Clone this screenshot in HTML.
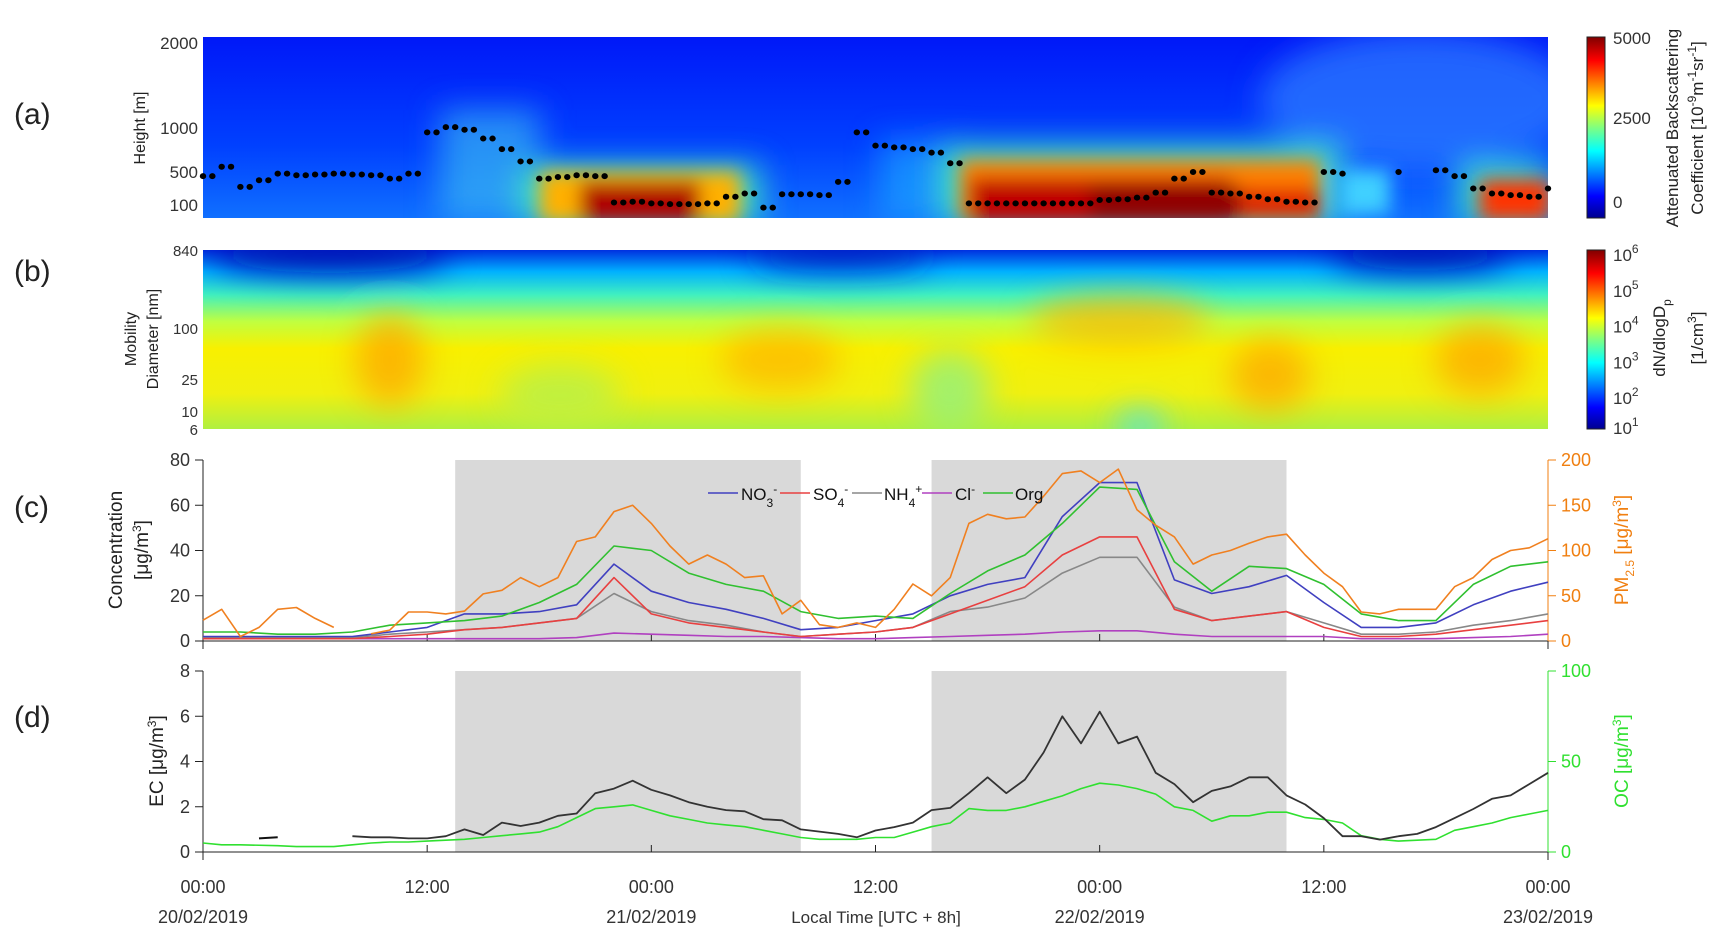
<!DOCTYPE html>
<html><head><meta charset="utf-8"><style>
html,body{margin:0;padding:0;background:#fff}
svg{display:block;font-family:"Liberation Sans",sans-serif}
</style></head><body>
<svg id="fig" width="1731" height="940" viewBox="0 0 1731 940" xmlns="http://www.w3.org/2000/svg">
<defs>
<linearGradient id="jet" x1="0" y1="1" x2="0" y2="0">
<stop offset="0" stop-color="#00008f"/><stop offset="0.12" stop-color="#0000ff"/><stop offset="0.37" stop-color="#00ffff"/><stop offset="0.5" stop-color="#80ff80"/><stop offset="0.62" stop-color="#ffff00"/><stop offset="0.87" stop-color="#ff0000"/><stop offset="1" stop-color="#800000"/>
</linearGradient>
<linearGradient id="bgB" x1="0" y1="0" x2="0" y2="1">
<stop offset="0" stop-color="#0030e0"/><stop offset="0.12" stop-color="#00b0ff"/><stop offset="0.25" stop-color="#40f0c0"/><stop offset="0.4" stop-color="#c0ff40"/><stop offset="0.55" stop-color="#f8f000"/><stop offset="0.8" stop-color="#f0f010"/><stop offset="1" stop-color="#b0f040"/>
</linearGradient>
<linearGradient id="bgA" x1="0" y1="0" x2="0" y2="1">
<stop offset="0" stop-color="#0018f8"/><stop offset="0.6" stop-color="#0040ff"/><stop offset="1" stop-color="#1070ff"/>
</linearGradient>
<filter id="blur" x="-50%" y="-50%" width="200%" height="200%"><feGaussianBlur stdDeviation="9"/></filter>
<filter id="blurL" x="-50%" y="-50%" width="200%" height="200%"><feGaussianBlur stdDeviation="16"/></filter>
<clipPath id="clipA"><rect x="203" y="37" width="1345" height="181"/></clipPath>
<clipPath id="clipB"><rect x="203" y="250" width="1345" height="179"/></clipPath>
</defs>

<g font-size="30" fill="#222">
<text x="14" y="124">(a)</text>
<text x="14" y="281">(b)</text>
<text x="14" y="517">(c)</text>
<text x="14" y="727">(d)</text>
</g>

<g clip-path="url(#clipA)">
<rect x="203" y="37" width="1345" height="181" fill="url(#bgA)"/>
<g filter="url(#blurL)">
<ellipse cx="1420" cy="100" rx="160" ry="70" fill="#3080ff" opacity="0.7"/>
<rect x="440" y="110" width="100" height="110" fill="#40c8f0" opacity="0.6"/>
<rect x="880" y="140" width="80" height="80" fill="#20b0ff" opacity="0.6"/>
<rect x="520" y="165" width="240" height="60" fill="#40e0c0"/>
<rect x="940" y="145" width="400" height="80" fill="#40e0c0"/>
<rect x="1460" y="165" width="90" height="60" fill="#40e0c0"/>
</g>
<g filter="url(#blur)">
<rect x="540" y="172" width="200" height="50" fill="#ffb000"/>
<rect x="580" y="182" width="120" height="40" fill="#b00000"/>
<rect x="960" y="160" width="360" height="60" fill="#ff8000"/>
<rect x="970" y="178" width="260" height="45" fill="#c00000"/>
<rect x="1090" y="185" width="150" height="35" fill="#900000"/>
<rect x="1240" y="188" width="80" height="30" fill="#e02000"/>
<rect x="1480" y="180" width="70" height="40" fill="#ff3000"/>
<rect x="1340" y="170" width="50" height="45" fill="#40d0ff"/>
</g>
</g>
<g id="dots"></g>

<g clip-path="url(#clipB)">
<rect x="203" y="250" width="1345" height="179" fill="url(#bgB)"/>
<g filter="url(#blurL)">
<ellipse cx="330" cy="255" rx="120" ry="18" fill="#0010b0"/>
<ellipse cx="840" cy="255" rx="90" ry="14" fill="#0020c0"/>
<ellipse cx="1420" cy="255" rx="90" ry="16" fill="#0010b0"/>
<ellipse cx="390" cy="360" rx="35" ry="45" fill="#ffa000" opacity="0.7"/>
<ellipse cx="780" cy="360" rx="60" ry="30" fill="#ffb000" opacity="0.7"/>
<ellipse cx="1120" cy="320" rx="90" ry="25" fill="#ffb000" opacity="0.7"/>
<ellipse cx="1270" cy="375" rx="40" ry="35" fill="#ffa000" opacity="0.7"/>
<ellipse cx="1480" cy="360" rx="45" ry="35" fill="#ffa000" opacity="0.7"/>
<ellipse cx="950" cy="390" rx="40" ry="40" fill="#90f080" opacity="0.8"/>
<ellipse cx="560" cy="395" rx="60" ry="30" fill="#c0f040"/>
<ellipse cx="1140" cy="425" rx="25" ry="12" fill="#40e0ff"/>
</g>
</g>

<rect x="1587" y="37" width="18" height="181" fill="url(#jet)" stroke="#222"/>
<rect x="1587" y="250" width="18" height="179" fill="url(#jet)" stroke="#222"/>
<g font-size="17" fill="#333">
<text x="1613" y="44">5000</text><text x="1613" y="124">2500</text><text x="1613" y="208">0</text>
</g>
<g font-size="17" fill="#333" id="cbB"></g>
<text transform="translate(1678,128) rotate(-90)" text-anchor="middle" font-size="17" fill="#222">Attenuated Backscattering</text>
<text transform="translate(1703,128) rotate(-90)" text-anchor="middle" font-size="17" fill="#222">Coefficient [10<tspan dy="-7" font-size="12">-9</tspan><tspan dy="7">m</tspan><tspan dy="-7" font-size="12">-1</tspan><tspan dy="7">sr</tspan><tspan dy="-7" font-size="12">-1</tspan><tspan dy="7">]</tspan></text>
<text transform="translate(1665,338) rotate(-90)" text-anchor="middle" font-size="17" fill="#222">dN/dlogD<tspan dy="6" font-size="12">p</tspan></text>
<text transform="translate(1703,338) rotate(-90)" text-anchor="middle" font-size="17" fill="#222">[1/cm<tspan dy="-7" font-size="12">3</tspan><tspan dy="7">]</tspan></text>

<g font-size="17" fill="#333" text-anchor="end">
<text x="198" y="49">2000</text><text x="198" y="134">1000</text><text x="198" y="178">500</text><text x="198" y="211">100</text>
</g>
<text transform="translate(145,128) rotate(-90)" text-anchor="middle" font-size="16" fill="#222">Height [m]</text>
<g font-size="15" fill="#333" text-anchor="end">
<text x="198" y="256">840</text><text x="198" y="334">100</text><text x="198" y="385">25</text><text x="198" y="417">10</text><text x="198" y="435">6</text>
</g>
<text transform="translate(136,339) rotate(-90)" text-anchor="middle" font-size="16" fill="#222">Mobility</text>
<text transform="translate(158,339) rotate(-90)" text-anchor="middle" font-size="16" fill="#222">Diameter [nm]</text>

<g id="panelC"></g>
<g id="panelD"></g>

<g font-size="18" fill="#333" text-anchor="middle" id="xlabels"></g>
<text x="876" y="923" text-anchor="middle" font-size="17" fill="#333">Local Time [UTC + 8h]</text>
</svg>
<script>
const mlHours=[0,1,2,3,4,5,6,7,8,9,10,11,12,13,14,15,16,17,18,19,20,21,22,23,24,25,26,27,28,29,30,31,32,33,34,35,36,37,38,39,40,41,42,43,44,45,46,47,48,49,50,51,52,53,54,55,56,57,58,59,60,61,64,66,67,68,69,70,71,72];
const mlHeight=[450,560,320,400,480,460,470,480,470,460,420,480,950,1010,980,880,760,620,420,440,460,450,130,140,120,110,110,120,200,240,80,230,230,220,380,950,800,780,760,720,600,120,120,120,120,120,120,120,160,170,190,250,420,500,250,240,200,170,140,130,500,480,500,520,450,300,240,220,200,300];

const hrs2=[0,2,4,6,8,10,12,14,16,18,20,22,24,26,28,30,32,34,36,38,40,42,44,46,48,50,52,54,56,58,60,62,64,66,68,70,72];
const no3=[2,2,2,2,2,4,6,12,12,13,16,34,22,17,14,10,5,6,9,12,20,25,28,55,70,70,27,21,24,29,17,6,6,8,16,22,26];
const so4=[1,1,1,1,1,2,3,5,6,8,10,28,12,8,6,4,2,3,4,6,12,18,24,38,46,46,14,9,11,13,6,2,2,3,5,7,9];
const nh4=[1.5,1.5,1.5,1.5,1.5,3,4,5,6,8,10,21,13,9,7,4,2,3,4,6,13,15,19,30,37,37,15,9,11,13,8,3,3,4,7,9,12];
const cl=[1,1,1,1,1,1,1,1,1,1,1.5,3.5,3,2.5,2,2,1.5,1,1,1.5,2,2.5,3,4,4.5,4.5,3,2,2,2,2,1,1,1,1.5,2,3];
const org=[4,4,3,3,4,7,8,9,11,17,25,42,40,30,25,22,13,10,11,10,21,31,38,52,68,67,35,22,33,32,25,12,9,9,25,33,35];
const pmHours1=[0,1,2,3,4,5,6,7];
const pm1=[23,35,5,15,35,37,25,15];
const pmHours2=[9,10,11,12,13,14,15,16,17,18,19,20,21,22,23,24,25,26,27,28,29,30,31,32,33,34,35,36,37,38,39,40,41,42,43,44,45,46,47,48,49,50,51,52,53,54,55,56,57,58,59,60,61,62,63,64,65,66,67,68,69,70,71,72];
const pm2=[8,12,32,32,30,33,52,56,70,60,70,110,115,143,150,130,105,85,95,85,70,72,30,45,18,15,20,15,35,63,50,70,130,140,135,137,160,185,188,175,190,145,128,115,85,95,100,108,115,118,95,75,60,32,30,35,35,35,60,70,90,100,103,113];

const ecHours1=[3,4];
const ec1=[0.6,0.65];
const ecHours2=[8,9,10,11,12,13,14,15,16,17,18,19,20,21,22,23,24,25,26,27,28,29,30,31,32,33,34,35,36,37,38,39,40,41,42,43,44,45,46,47,48,49,50,51,52,53,54,55,56,57,58,59,60,61,62,63,64,65,66,67,68,69,70,71,72];
const ec2=[0.7,0.65,0.65,0.6,0.6,0.7,1.0,0.75,1.3,1.15,1.3,1.6,1.7,2.6,2.8,3.15,2.75,2.5,2.2,2.0,1.85,1.8,1.45,1.4,1.0,0.9,0.8,0.65,0.95,1.1,1.3,1.85,1.95,2.6,3.3,2.6,3.2,4.4,6.0,4.8,6.2,4.8,5.1,3.5,3.0,2.2,2.7,2.9,3.3,3.3,2.5,2.1,1.5,0.7,0.7,0.55,0.7,0.8,1.1,1.5,1.9,2.35,2.5,3.0,3.5];
const ocHours=[0,1,2,4,5,6,7,8,9,10,11,12,13,14,15,16,17,18,19,20,21,22,23,24,25,26,27,28,29,30,31,32,33,34,35,36,37,38,39,40,41,42,43,44,45,46,47,48,49,50,51,52,53,54,55,56,57,58,59,60,61,62,63,64,65,66,67,68,69,70,71,72];
const oc=[5,4,4,3.5,3,3,3,4,5,5.5,5.5,6,6.5,7,8,9,10,11,14,19,24,25,26,23,20,18,16,15,14,12,10,8,7,7,7,8,8,11,14,16,24,23,23,25,28,31,35,38,37,35,32,25,23,17,20,20,22,22,19,18,16,9,7,6,6.5,7,12,14,16,19,21,23];

const shadeStart=[13.5,39];
const shadeEnd=[32,58];
const xTickHours=[0,12,24,36,48,60,72];
const xTickLabels=["00:00","12:00","00:00","12:00","00:00","12:00","00:00"];
const dateLabels=["20/02/2019","","21/02/2019","","22/02/2019","","23/02/2019"];
const concTicks=[0,20,40,60,80];
const pmTicks=[0,50,100,150,200];
const ecTicks=[0,2,4,6,8];
const ocTicks=[0,50,100];
const cbBexp=[1,2,3,4,5,6];

const NS='http://www.w3.org/2000/svg';
const X=h=>203+h*1345/72;
const hPts=[[0,218],[100,205],[500,172],[1000,128],[2000,37]];
function yH(v){for(let i=1;i<hPts.length;i++){if(v<=hPts[i][0]){const a=hPts[i-1],b=hPts[i];return a[1]+(v-a[0])/(b[0]-a[0])*(b[1]-a[1]);}}return 37;}
const yC=v=>641-v*181/80, yPM=v=>641-v*181/200;
const yE=v=>852-v*181/8, yO=v=>852-v*181/100;
function el(tag,attrs,parent){const e=document.createElementNS(NS,tag);for(const k in attrs)e.setAttribute(k,attrs[k]);parent.appendChild(e);return e;}
function poly(hs,vs,yf,color,parent,name,w){
  const d=hs.map((h,i)=>(i?'L':'M')+X(h).toFixed(1)+','+yf(vs[i]).toFixed(1)).join('');
  const p=el('path',{d:d,fill:'none',stroke:color,'stroke-width':w||1.6,'stroke-linejoin':'round'},parent);
  
  
}

const dg=document.getElementById('dots');
mlHours.forEach((h,i)=>{
  const c=el('ellipse',{cx:X(h),cy:yH(mlHeight[i]),rx:3.2,ry:3,fill:'#000'},dg);
  
  
  if(i<mlHours.length-1&&mlHours[i+1]-h===1){
    const c2=el('ellipse',{cx:X(h+0.5),cy:yH(mlHeight[i]),rx:3.2,ry:3,fill:'#000'},dg);
    
    
  }
});
const cb=document.getElementById('cbB');
cbBexp.forEach((e,i)=>{const t=el('text',{x:1613,y:434-(i)*179/5+(i===0?0:6)},cb);t.innerHTML='10<tspan dy="-8" font-size="12">'+e+'</tspan>';});

function panel(g,top,bot,ticksL,yl,ticksR,yr,rc){
  shadeStart.forEach((s,i)=>{const r=el('rect',{x:X(s),y:top,width:X(shadeEnd[i])-X(s),height:bot-top,fill:'#d9d9d9'},g);
    
    });
  el('line',{x1:203,y1:top,x2:203,y2:bot,stroke:'#222'},g);
  el('line',{x1:203,y1:bot,x2:1548,y2:bot,stroke:'#222'},g);
  el('line',{x1:1548,y1:top,x2:1548,y2:bot,stroke:rc},g);
  ticksL.forEach(t=>{el('line',{x1:203,y1:yl(t),x2:195,y2:yl(t),stroke:'#222'},g);
    const tx=el('text',{x:190,y:yl(t)+6,'text-anchor':'end','font-size':18,fill:'#333'},g);tx.textContent=t;});
  ticksR.forEach(t=>{el('line',{x1:1548,y1:yr(t),x2:1556,y2:yr(t),stroke:rc},g);
    const tx=el('text',{x:1561,y:yr(t)+6,'font-size':18,fill:rc},g);tx.textContent=t;});
  xTickHours.forEach(h=>el('line',{x1:X(h),y1:bot,x2:X(h),y2:bot+(h===0||h===72?8:-7),stroke:'#222'},g));
}
const gc=document.getElementById('panelC');
panel(gc,460,641,concTicks,yC,pmTicks,yPM,'#f07f10');
poly(hrs2,cl,yC,'#b040c0',gc,'cl-line');
poly(hrs2,nh4,yC,'#888',gc,'nh4-line');
poly(hrs2,so4,yC,'#e84040',gc,'so4-line');
poly(hrs2,no3,yC,'#4040c0',gc,'no3-line');
poly(hrs2,org,yC,'#30c030',gc,'org-line');
poly(pmHours1,pm1,yPM,'#f08020',gc,'pm25-line');
poly(pmHours2,pm2,yPM,'#f08020',gc,'pm25-line');
const lg=el('g',{'font-size':17,fill:'#111'},gc);


[[708,741,'#4040c0','NO<tspan dy="7" font-size="12">3</tspan><tspan dy="-14" font-size="12">-</tspan>'],
 [780,813,'#e84040','SO<tspan dy="7" font-size="12">4</tspan><tspan dy="-14" font-size="12">-</tspan>'],
 [852,884,'#888','NH<tspan dy="7" font-size="12">4</tspan><tspan dy="-14" font-size="12">+</tspan>'],
 [922,955,'#b040c0','Cl<tspan dy="-7" font-size="12">-</tspan>'],
 [983,1015,'#30c030','Org']].forEach(e=>{
  el('line',{x1:e[0],y1:493,x2:e[0]+30,y2:493,stroke:e[2],'stroke-width':1.6},lg);
  const t=el('text',{x:e[1],y:500},lg);t.innerHTML=e[3];
  
  
});
let t=el('text',{transform:'translate(122,550) rotate(-90)','text-anchor':'middle','font-size':19,fill:'#222'},gc);t.textContent='Concentration';
t=el('text',{transform:'translate(148,550) rotate(-90)','text-anchor':'middle','font-size':19,fill:'#222'},gc);t.innerHTML='[μg/m<tspan dy="-7" font-size="12">3</tspan><tspan dy="7">]</tspan>';
t=el('text',{transform:'translate(1628,550) rotate(-90)','text-anchor':'middle','font-size':19,fill:'#f07f10'},gc);t.innerHTML='PM<tspan dy="6" font-size="12">2.5</tspan><tspan dy="-6"> [μg/m</tspan><tspan dy="-7" font-size="12">3</tspan><tspan dy="7">]</tspan>';

const gd=document.getElementById('panelD');
panel(gd,671,852,ecTicks,yE,ocTicks,yO,'#30e030');
poly(ocHours,oc,yO,'#30e030',gd,'oc-line');
poly(ecHours1,ec1,yE,'#111',gd,'ec-line',2);
poly(ecHours2,ec2,yE,'#333',gd,'ec-line',1.8);
t=el('text',{transform:'translate(163,761) rotate(-90)','text-anchor':'middle','font-size':19,fill:'#222'},gd);t.innerHTML='EC [μg/m<tspan dy="-7" font-size="12">3</tspan><tspan dy="7">]</tspan>';
t=el('text',{transform:'translate(1628,761) rotate(-90)','text-anchor':'middle','font-size':19,fill:'#30e030'},gd);t.innerHTML='OC [μg/m<tspan dy="-7" font-size="12">3</tspan><tspan dy="7">]</tspan>';

const xl=document.getElementById('xlabels');
xTickHours.forEach((h,i)=>{
  let a=el('text',{x:X(h),y:893},xl);a.textContent=xTickLabels[i];
  
  
  if(dateLabels[i]){let b=el('text',{x:X(h),y:923},xl);b.textContent=dateLabels[i];
    
    }
});
</script>
</body></html>
